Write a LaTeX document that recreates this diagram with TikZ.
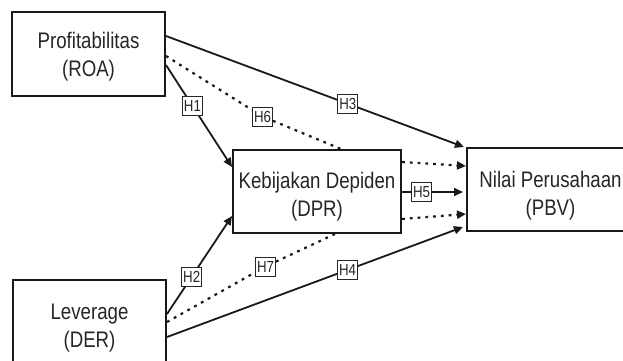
\documentclass[tikz,border=0pt]{standalone}
\usepackage{fontspec}
\setmainfont{Liberation Sans}
\newfontfamily\nar[FakeStretch=0.83]{Liberation Sans}
\usetikzlibrary{arrows.meta}
\begin{document}
\begin{tikzpicture}[x=1pt,y=-1pt,
  box/.style={draw=black!90, line width=2pt, inner sep=0pt},
  txt/.style={align=center, text=black!85, inner sep=0pt, font=\nar\fontsize{22.5}{27.5}\selectfont},
  lbl/.style={draw=black!85, line width=0.9pt, fill=white, text=black!85, inner sep=0pt,
    minimum width=20pt, minimum height=19pt, font=\nar\fontsize{16}{17}\selectfont},
  ln/.style={draw=black!90, line width=1.8pt},
  arr/.style={ln, -{Triangle[length=9pt,width=8pt]}},
  dot/.style={draw=black!90, line width=2.2pt, dash pattern=on 2.8pt off 5pt},
  darr/.style={dot, -{Triangle[length=9pt,width=8pt]}},
]
\useasboundingbox (0,0) rectangle (623,360);

% boxes
\node[box, minimum width=153pt, minimum height=84pt,
  label={[txt, yshift=-2.5pt]center:{Profitabilitas\\(ROA)}}] (roa) at (88.5,54) {};
\node[box, minimum width=168pt, minimum height=83pt,
  label={[txt, yshift=-5.4pt]center:{Kebijakan Depiden\\(DPR)}}] (kdp) at (317,191.5) {};
\node[box, minimum width=167pt, minimum height=83pt,
  label={[txt, yshift=-6pt]center:{Nilai Perusahaan\\(PBV)}}] (pbv) at (550.5,189.5) {};
\node[box, minimum width=153pt, minimum height=93pt,
  label={[txt, yshift=-1.8pt]center:{Leverage\\(DER)}}] (der) at (89.5,326.5) {};

% mediation labels
\node[lbl] (h6) at (262.5,116.5) {H6};
\node[lbl] (h7) at (265.5,266.5) {H7};

% ROA connections
\draw[arr] ([yshift=-25pt]roa.north east) -- node[lbl, pos=0.61]{H3} ([xshift=-2pt]pbv.north west);
\draw[arr] ([yshift=-54pt]roa.north east) -- node[lbl, pos=0.4]{H1} ([yshift=-18pt]kdp.north west);
\draw[dot] ([yshift=-45pt]roa.north east) -- (h6);
\draw[dot] (h6) -- ([xshift=109pt]kdp.north west);
\draw[darr] ([yshift=-13pt]kdp.north east) -- ([yshift=-19pt]pbv.north west);

% DER connections
\draw[arr] ([yshift=-35pt]der.north east) -- node[lbl, pos=0.38]{H2} ([yshift=18pt]kdp.south west);
\draw[arr] ([yshift=-58pt]der.north east) -- node[lbl, pos=0.61]{H4} ([xshift=-3pt,yshift=-80pt]pbv.north west);
\draw[dot] ([yshift=-43pt]der.north east) -- (h7);
\draw[dot] (h7) -- ([xshift=103pt]kdp.south west);
\draw[darr] ([yshift=15pt]kdp.south east) -- ([yshift=18pt]pbv.south west);

% DPR -> PBV
\draw[arr] ([yshift=-0.5pt]kdp.east) -- node[lbl, pos=0.32]{H5} ([xshift=-3pt,yshift=-2.5pt]pbv.west);
\end{tikzpicture}
\end{document}
